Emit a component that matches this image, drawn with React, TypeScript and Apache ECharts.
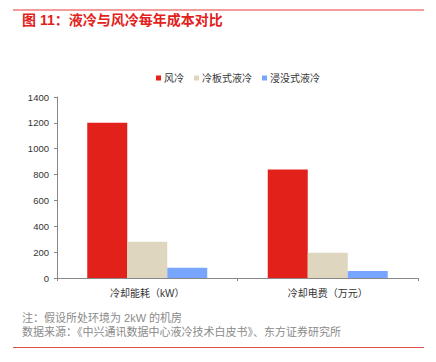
import React, { useEffect, useRef } from "react";
import * as echarts from "echarts";

const categories = ["冷却能耗（kW）", "冷却电费（万元）"];
const seriesNames = ["风冷", "冷板式液冷", "浸没式液冷"];
const airCooling = [1200, 840];
const coldPlate = [280, 195];
const immersion = [80, 55];
const titleText = "图 11：液冷与风冷每年成本对比";
const noteText = "注：假设所处环境为 2kW 的机房";
const sourceText = "数据来源：《中兴通讯数据中心液冷技术白皮书》、东方证券研究所";

const colors = ["#E3211B", "#DED6BF", "#78A6FF"];
const FONT = "'Liberation Sans', 'Noto Sans CJK SC', sans-serif";

export default function App() {
  const ref = useRef<HTMLDivElement>(null);
  useEffect(() => {
    if (!ref.current) return;
    const chart = echarts.init(ref.current, null, { renderer: "svg" });
    const values = [airCooling, coldPlate, immersion];
    chart.setOption({
      animation: false,
      backgroundColor: "#ffffff",
      textStyle: { fontFamily: FONT },
      graphic: [
        { type: "line", shape: { x1: 13, y1: 10, x2: 424, y2: 10 }, style: { stroke: "#F07A7A", lineWidth: 1.5 } },
        { type: "text", x: 22, y: 20, style: { text: titleText, fill: "#E3211B", font: `bold 14px ${FONT}`, textVerticalAlign: "middle" } },
        { type: "text", x: 22, y: 318, style: { text: noteText, fill: "#8A8A8A", font: `11px ${FONT}`, textVerticalAlign: "middle" } },
        { type: "text", x: 22, y: 332, style: { text: sourceText, fill: "#8A8A8A", font: `11px ${FONT}`, textVerticalAlign: "middle" } },
        { type: "line", shape: { x1: 13, y1: 347.5, x2: 424, y2: 347.5 }, style: { stroke: "#E0504A", lineWidth: 1.2 } },
      ],
      legend: {
        left: 151,
        top: 68,
        itemWidth: 5,
        itemHeight: 5,
        itemGap: 10,
        icon: "rect",
        data: seriesNames,
        textStyle: { fontSize: 10, color: "#333", padding: [0, 0, 0, -2] },
      },
      grid: { left: 57, right: 18, top: 97, bottom: 84, containLabel: false },
      xAxis: {
        type: "category",
        data: categories,
        axisLine: { lineStyle: { color: "#888", width: 1 } },
        axisTick: { show: true, length: 3, lineStyle: { color: "#888" } },
        axisLabel: { fontSize: 10, color: "#333", margin: 10 },
      },
      yAxis: {
        type: "value",
        min: 0,
        max: 1400,
        interval: 200,
        axisLine: { show: true, lineStyle: { color: "#888", width: 1 } },
        axisTick: { show: true, length: 3, lineStyle: { color: "#888" } },
        splitLine: { show: false },
        axisLabel: { fontSize: 9.5, color: "#333", margin: 8, formatter: (v: number) => String(v) },
      },
      series: seriesNames.map((name, i) => ({
        name,
        type: "bar",
        data: values[i],
        barWidth: 40,
        barGap: "0%",
        itemStyle: { color: colors[i] },
      })),
    });
    return () => chart.dispose();
  }, []);
  return (
    <div style={{ position: "fixed", left: 0, top: 0, width: 436, height: 362, background: "#fff" }}>
      <div ref={ref} style={{ width: 436, height: 362 }} />
    </div>
  );
}
